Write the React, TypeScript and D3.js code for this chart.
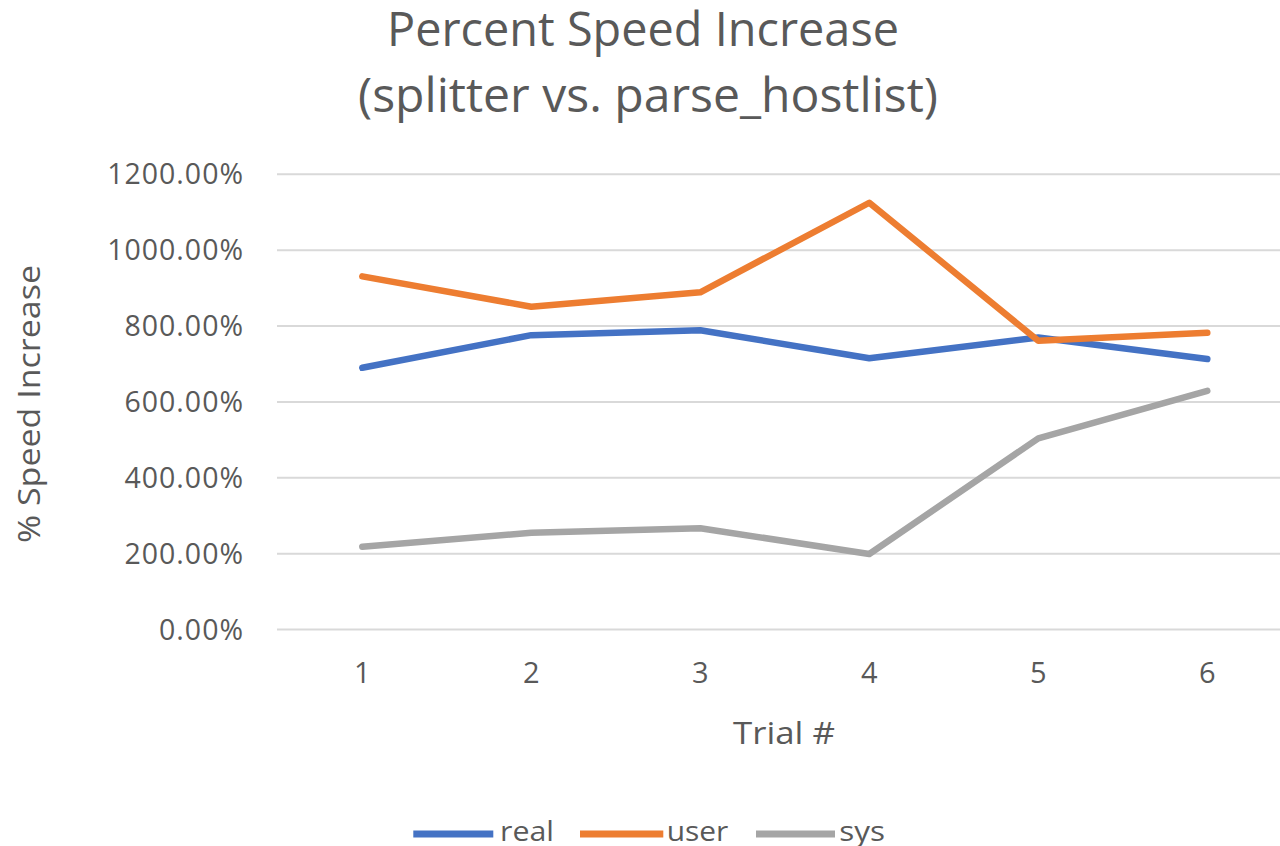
import React from "react";
import * as d3 from "d3";

const categories = ["1", "2", "3", "4", "5", "6"];
const realValues = [690, 776, 789, 715, 770, 713];
const userValues = [931, 851, 889, 1125, 761, 782];
const sysValues = [218, 255, 267, 199, 504, 629];
const yTicks = [0, 200, 400, 600, 800, 1000, 1200];
const seriesNames = ["real", "user", "sys"];
const seriesColors = ["#4472C4", "#ED7D31", "#A5A5A5"];
const titleLines = ["Percent Speed Increase", "(splitter vs. parse_hostlist)"];
const yAxisTitle = "% Speed Increase";
const xAxisTitle = "Trial #";

const W = 1280;
const H = 846;
const FONT = "'Open Sans', 'Segoe UI', sans-serif";
const TEXT = "#595959";

export default function App() {
  const x = d3.scalePoint<string>().domain(categories).range([277.8, 1291.8]).padding(0.5);
  const y = d3.scaleLinear().domain([0, 1200]).range([629.5, 174.3]);
  const seriesData = [realValues, userValues, sysValues];
  const line = d3
    .line<number>()
    .x((_, i) => x(categories[i]) as number)
    .y((d) => y(d));
  const fmt = (v: number) => d3.format(".2f")(v) + "%";

  const legendItems = [
    { sx: 413.3, ex: 493.3, tx: 500, tw: 54 },
    { sx: 580, ex: 663.3, tx: 666.7, tw: 61.6 },
    { sx: 756, ex: 835, tx: 839.3, tw: 45.7 },
  ];

  return (
    <svg
      width={W}
      height={H}
      style={{ position: "absolute", left: 0, top: 0, background: "#fff", display: "block" }}
      fontFamily={FONT}
    >
      <rect x={0} y={0} width={W} height={H} fill="#fff" />
      {/* Title */}
      <text x={643} y={45.7} textAnchor="middle" fontSize={47} fill={TEXT} textLength={512} lengthAdjust="spacingAndGlyphs">
        {titleLines[0]}
      </text>
      <text x={648} y={111.7} textAnchor="middle" fontSize={47} fill={TEXT} textLength={580} lengthAdjust="spacingAndGlyphs">
        {titleLines[1]}
      </text>

      {/* Gridlines */}
      {yTicks.map((t) => (
        <line key={"g" + t} x1={277} x2={1292} y1={y(t)} y2={y(t)} stroke="#D9D9D9" strokeWidth={2} />
      ))}

      {/* Y tick labels */}
      {yTicks.map((t) => (
        <text key={"yt" + t} x={244} y={y(t) + 10} textAnchor="end" fontSize={28.5} fill={TEXT} letterSpacing={1}>
          {fmt(t)}
        </text>
      ))}

      {/* X tick labels */}
      {categories.map((c) => (
        <text key={"xt" + c} x={x(c) as number} y={682.7} textAnchor="middle" fontSize={29} fill={TEXT}>
          {c}
        </text>
      ))}

      {/* Axis titles */}
      <text
        transform={`translate(40,404) rotate(-90)`}
        textAnchor="middle"
        fontSize={31}
        fill={TEXT}
        textLength={278}
        lengthAdjust="spacingAndGlyphs"
      >
        {yAxisTitle}
      </text>
      <text x={784} y={743.7} textAnchor="middle" fontSize={31} fill={TEXT} textLength={102} lengthAdjust="spacingAndGlyphs">
        {xAxisTitle}
      </text>

      {/* Lines */}
      {seriesData.map((vals, i) => (
        <path
          key={"s" + i}
          d={line(vals) || ""}
          fill="none"
          stroke={seriesColors[i]}
          strokeWidth={6.5}
          strokeLinejoin="round"
          strokeLinecap="round"
        />
      ))}

      {/* Legend */}
      {seriesNames.map((name, i) => (
        <g key={"l" + name}>
          <line
            x1={legendItems[i].sx}
            x2={legendItems[i].ex}
            y1={834}
            y2={834}
            stroke={seriesColors[i]}
            strokeWidth={7}
          />
          <text
            x={legendItems[i].tx}
            y={840.5}
            fontSize={28}
            fill={TEXT}
            textLength={legendItems[i].tw}
            lengthAdjust="spacingAndGlyphs"
          >
            {name}
          </text>
        </g>
      ))}
    </svg>
  );
}
